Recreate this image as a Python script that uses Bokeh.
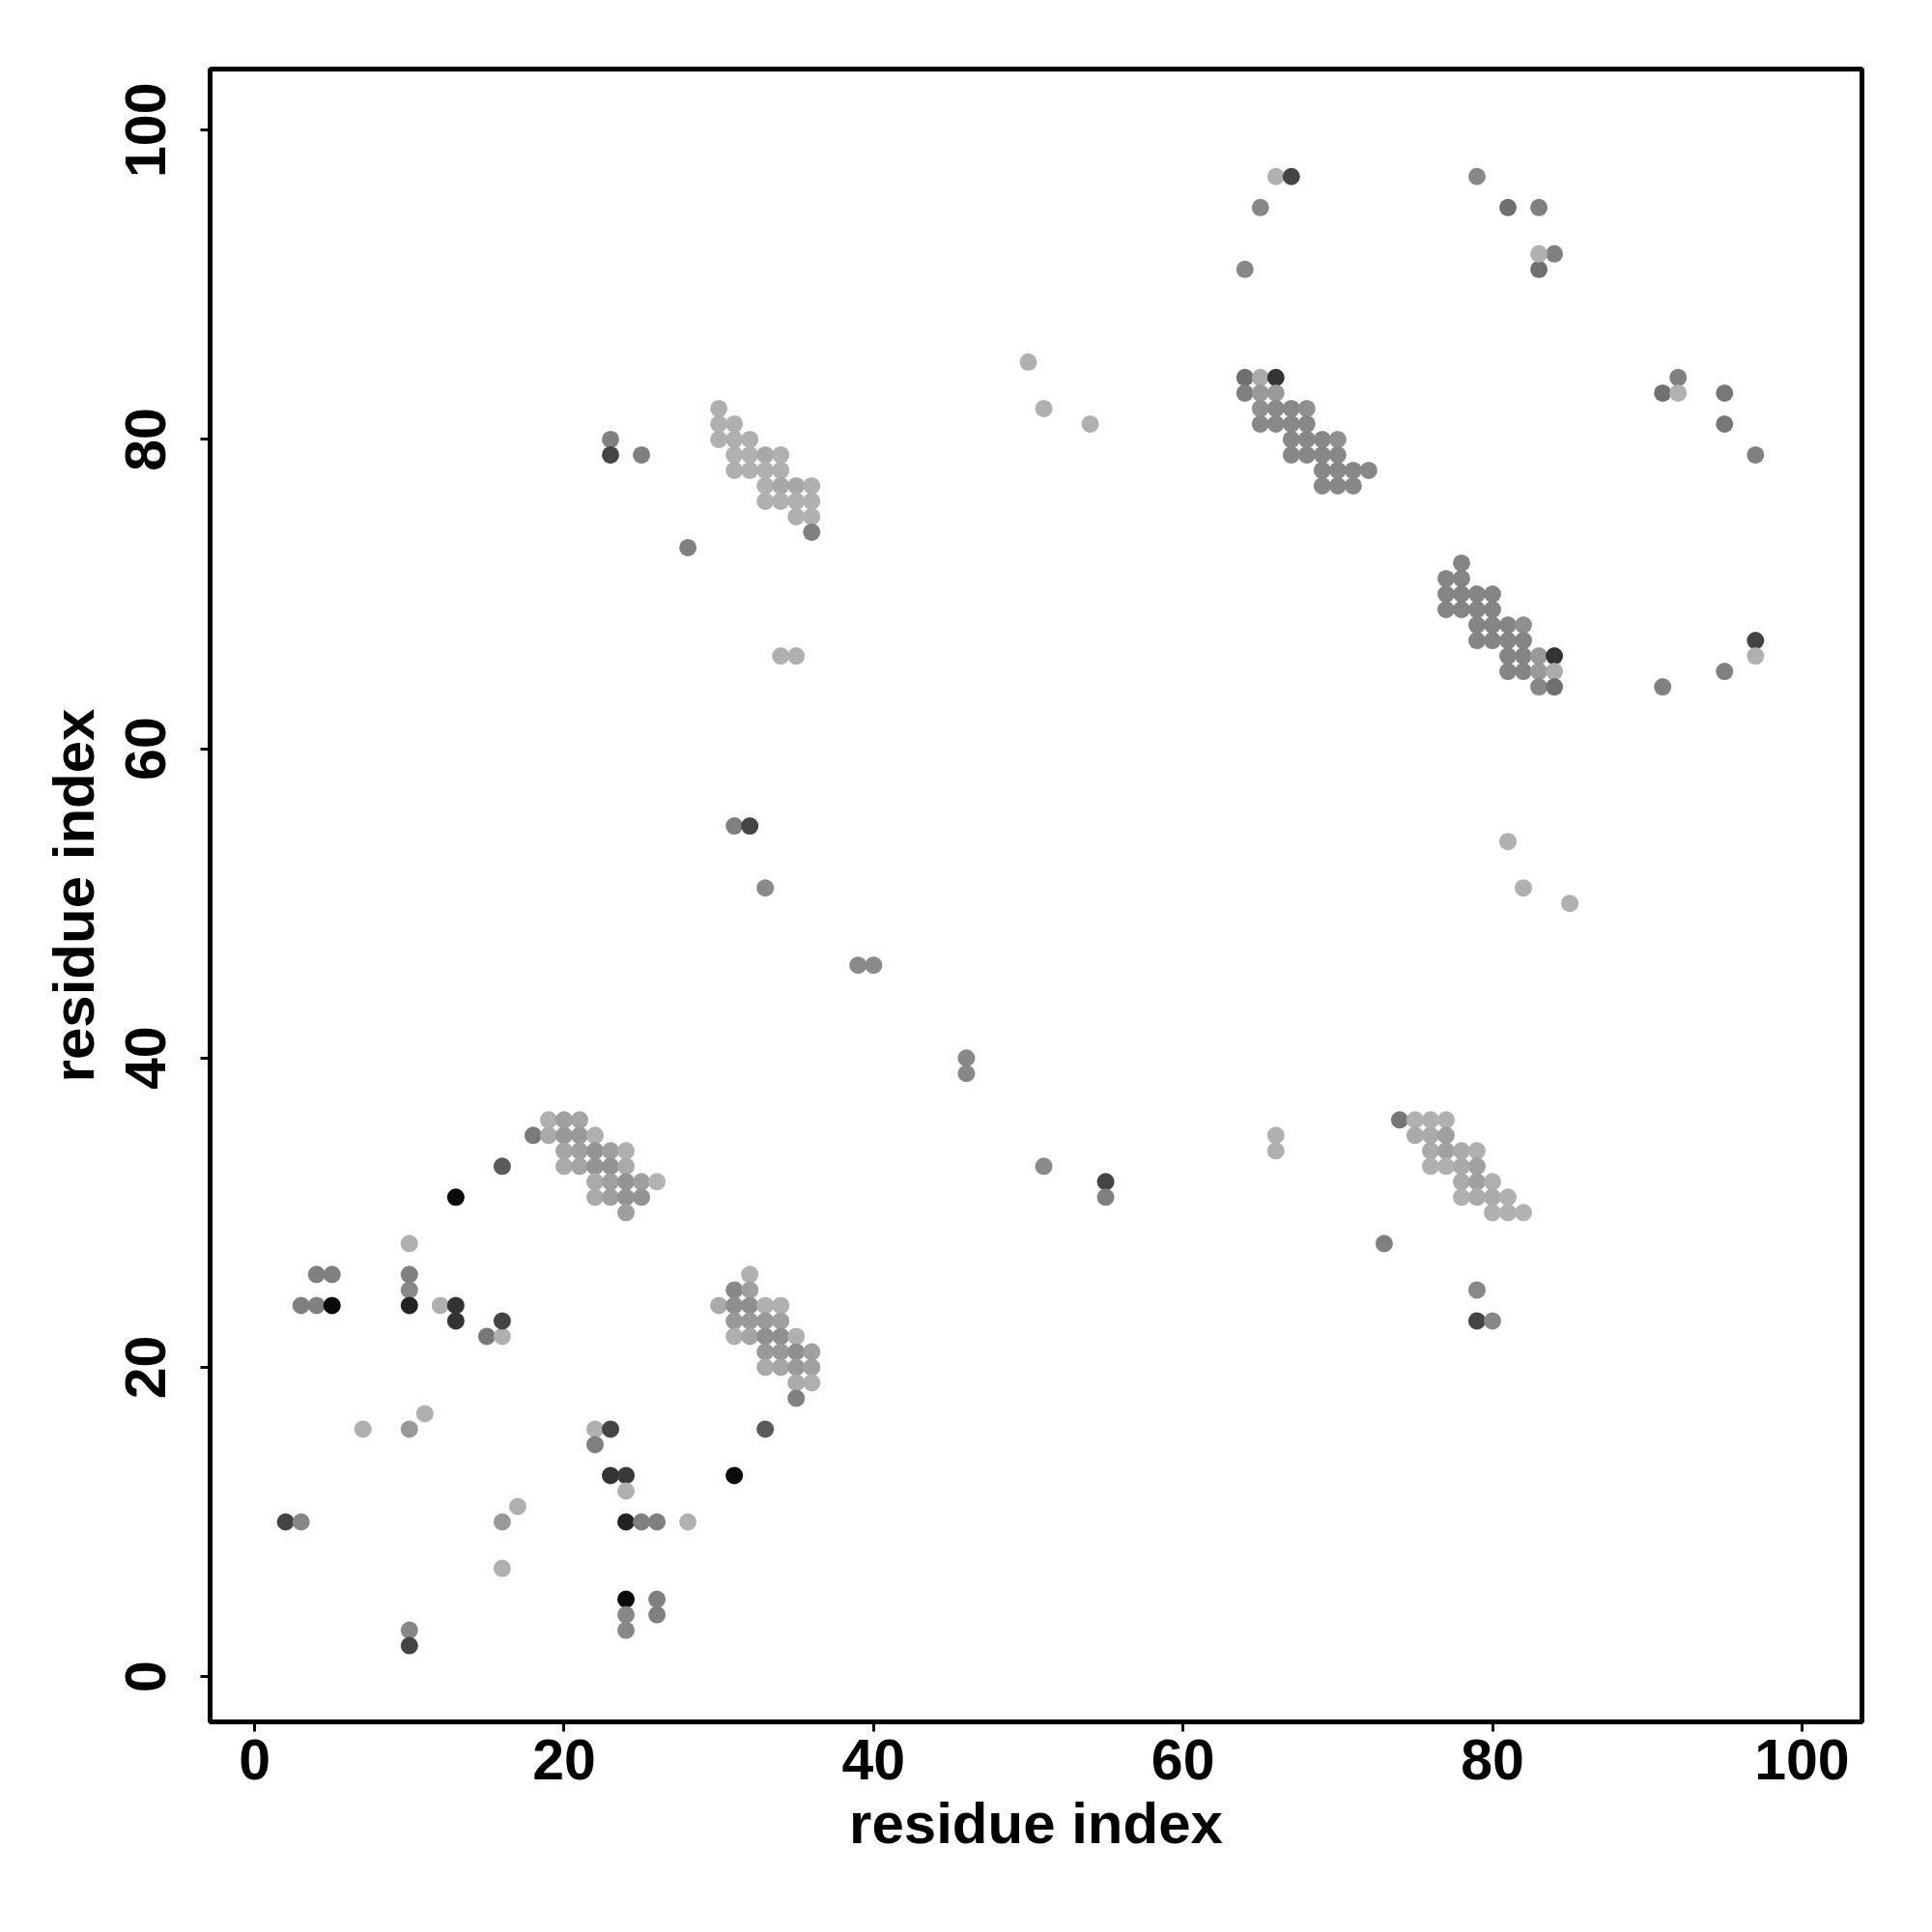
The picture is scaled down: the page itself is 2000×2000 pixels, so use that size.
from bokeh.plotting import figure
from bokeh.models import Range1d, FixedTicker, ColumnDataSource
from bokeh.embed import file_html
from bokeh.resources import INLINE

# contact points: residue i, residue j, gray level (0 = black, 255 = white)
res_i = [
    2, 3, 3, 4, 5, 4, 5, 7, 10, 10, 10, 10, 10, 11, 12, 13, 13, 13, 15, 16, 16,
    16, 16, 16, 17, 10, 10, 22, 22, 23, 33, 23, 24, 24, 31, 24, 25, 26, 28, 24, 26,
    24, 26, 24,
    19, 20, 21, 18, 19, 20, 21, 22, 20, 21, 22, 23, 24, 20, 21, 22, 23, 24,
    22, 23, 24, 25, 26, 22, 23, 24, 25, 24,
    32, 31, 32, 30, 31, 32, 33, 34, 31, 32, 33, 34, 31, 32, 33, 34, 35,
    33, 34, 35, 36, 33, 34, 35, 36, 35, 36, 35,
    23, 23, 25, 28, 30, 30, 31, 30, 31, 32, 31, 32, 33, 34, 31, 32, 33, 34,
    33, 34, 35, 36, 33, 34, 35, 36, 35, 36, 36, 34, 35,
    31, 32, 33, 39, 40, 46, 46, 51, 55, 55, 50, 51, 54, 66, 66,
    66, 67, 65, 64, 64, 65, 66, 64, 65, 66, 65, 66, 67, 68, 65, 66, 67, 68,
    67, 68, 69, 70, 67, 68, 69, 70, 69, 70, 71, 72, 69, 70, 71,
    79, 81, 83, 84, 83, 83, 92, 91, 92, 95, 95, 97, 97, 97, 95, 91,
    78, 77, 78, 77, 78, 79, 80, 77, 78, 79, 80, 79, 80, 81, 82, 79, 80, 81, 82,
    81, 82, 83, 84, 81, 82, 83, 84, 83, 84,
    74, 75, 76, 77, 75, 76, 77, 76, 77, 78, 79, 76, 77, 78, 79, 78, 79, 80,
    78, 79, 80, 81, 80, 81, 82, 73, 79, 79, 80, 81, 82, 85,
]
res_j = [
    10, 10, 24, 24, 24, 26, 26, 16, 28, 26, 25, 24, 16, 17, 24, 24, 23, 31, 22, 22, 23,
    33, 10, 7, 11, 3, 2, 16, 15, 16, 16, 13, 13, 12, 13, 10, 10, 10, 10, 5, 5,
    4, 4, 3,
    36, 36, 36, 35, 35, 35, 35, 35, 34, 34, 34, 34, 34, 33, 33, 33, 33, 33,
    32, 32, 32, 32, 32, 31, 31, 31, 31, 30,
    26, 25, 25, 24, 24, 24, 24, 24, 23, 23, 23, 23, 22, 22, 22, 22, 22,
    21, 21, 21, 21, 20, 20, 20, 20, 19, 19, 18,
    80, 79, 79, 73, 82, 81, 81, 80, 80, 80, 79, 79, 79, 79, 78, 78, 78, 78,
    77, 77, 77, 77, 76, 76, 76, 76, 75, 75, 74, 66, 66,
    55, 55, 51, 46, 46, 40, 39, 33, 32, 31, 85, 82, 81, 35, 34,
    97, 97, 95, 91, 84, 84, 84, 83, 83, 83, 82, 82, 82, 82, 81, 81, 81, 81,
    80, 80, 80, 80, 79, 79, 79, 79, 78, 78, 78, 78, 77, 77, 77,
    97, 95, 95, 92, 91, 92, 84, 83, 83, 83, 81, 79, 67, 66, 65, 64,
    72, 71, 71, 70, 70, 70, 70, 69, 69, 69, 69, 68, 68, 68, 68, 67, 67, 67, 67,
    66, 66, 66, 66, 65, 65, 65, 65, 64, 64,
    36, 36, 36, 36, 35, 35, 35, 34, 34, 34, 34, 33, 33, 33, 33, 32, 32, 32,
    31, 31, 31, 31, 30, 30, 30, 28, 25, 23, 23, 54, 51, 50,
]
shade = [
    0x44, 0x88, 0x80, 0x80, 0x0a, 0x80, 0x80, 0xb0, 0xb0, 0x80, 0x88, 0x22, 0x99, 0xb0, 0xb0, 0x33, 0x33, 0x0a, 0x77, 0xb0, 0x44,
    0x5a, 0x99, 0xb0, 0xb0, 0x88, 0x44, 0xb0, 0x80, 0x44, 0x5a, 0x33, 0x3a, 0xb0, 0x0a, 0x22, 0x80, 0x80, 0xb0, 0x0a, 0x80,
    0x88, 0x80, 0x88,
    0xb0, 0xa0, 0xa5, 0x7a, 0xaa, 0x99, 0x99, 0xb0, 0xa5, 0xa0, 0x93, 0xa0, 0xb0, 0xaa, 0xa5, 0x93, 0x93, 0xaa,
    0xaa, 0xa0, 0x93, 0xa0, 0xb3, 0xaa, 0xa0, 0x93, 0x93, 0xa0,
    0xb0, 0x88, 0xa0, 0xaa, 0x8f, 0x8f, 0xb0, 0xb0, 0x99, 0x99, 0x99, 0xa0, 0xb0, 0xa5, 0x8f, 0x8f, 0xb0,
    0x99, 0x99, 0x8f, 0xa0, 0xaa, 0xa5, 0x99, 0xa0, 0xaa, 0xb0, 0x80,
    0x80, 0x44, 0x80, 0x80, 0xb0, 0xb0, 0xb0, 0xb0, 0xb0, 0xb0, 0xb0, 0xb0, 0xa8, 0xb0, 0xb0, 0xb0, 0xb0, 0xb0,
    0xb0, 0xa8, 0xa8, 0xb0, 0xb0, 0xb0, 0xb0, 0xb0, 0xb0, 0xb0, 0x80, 0xb0, 0xb0,
    0x80, 0x44, 0x8a, 0x8a, 0x8a, 0x88, 0x88, 0x8a, 0x44, 0x80, 0xb0, 0xb0, 0xb0, 0xb0, 0xb0,
    0xb0, 0x44, 0x88, 0x88, 0x70, 0xaa, 0x33, 0x80, 0x99, 0x99, 0x90, 0x88, 0x88, 0x90, 0x88, 0x88, 0x88, 0x88,
    0x88, 0x88, 0x88, 0x90, 0x88, 0x88, 0x88, 0x88, 0x88, 0x88, 0x88, 0x88, 0x88, 0x88, 0x88,
    0x88, 0x70, 0x80, 0x80, 0x70, 0xb0, 0x80, 0x70, 0xb0, 0x77, 0x77, 0x80, 0x44, 0xb0, 0x80, 0x80,
    0x85, 0x85, 0x85, 0x85, 0x85, 0x85, 0x85, 0x85, 0x85, 0x85, 0x85, 0x85, 0x85, 0x85, 0x8f, 0x85, 0x85, 0x85, 0x85,
    0x85, 0x85, 0x99, 0x33, 0x85, 0x85, 0x99, 0xaa, 0x88, 0x70,
    0x77, 0xb0, 0xb0, 0xb0, 0xaa, 0xaa, 0xa0, 0xaa, 0xa0, 0xaa, 0xb0, 0xb0, 0xb0, 0xaa, 0xa0, 0xaa, 0xa0, 0xb0,
    0xb0, 0xaa, 0xaa, 0xb0, 0xb0, 0xb0, 0xb3, 0x80, 0x88, 0x44, 0x88, 0xb0, 0xb0, 0xb0,
]

x_ticks = [0, 20, 40, 60, 80, 100]
y_ticks = [0, 20, 40, 60, 80, 100]

colors = ["#%02x%02x%02x" % (g, g, g) for g in shade]
src = ColumnDataSource(dict(x=res_i, y=res_j, c=colors))

p = figure(
    frame_width=1710, frame_height=1711,
    x_range=Range1d(-2.88, 103.88), y_range=Range1d(-2.93, 103.95),
    output_backend="svg", toolbar_location=None,
    min_border_left=217, min_border_right=57, min_border_top=71, min_border_bottom=202,
    background_fill_color="white", border_fill_color="white",
)
p.grid.visible = False
p.outline_line_color = "black"
p.outline_line_width = 5

p.scatter("x", "y", source=src, size=18, fill_color="c", line_color=None)

FONT = "Liberation Sans"
for ax, ticks in ((p.xaxis[0], x_ticks), (p.yaxis[0], y_ticks)):
    ax.ticker = FixedTicker(ticks=ticks)
    ax.axis_line_color = None
    ax.major_tick_in = 0
    ax.major_tick_out = 10
    ax.major_tick_line_width = 3
    ax.major_tick_line_color = "black"
    ax.minor_tick_line_color = None
    ax.major_label_text_font = FONT
    ax.major_label_text_font_style = "bold"
    ax.major_label_text_font_size = "59px"
    ax.major_label_text_color = "black"
    ax.axis_label = "residue index"
    ax.axis_label_text_font = FONT
    ax.axis_label_text_font_style = "bold"
    ax.axis_label_text_font_size = "60px"
    ax.axis_label_text_color = "black"

p.xaxis[0].major_label_standoff = 8
p.xaxis[0].axis_label_standoff = 9
p.yaxis[0].major_label_orientation = "vertical"
p.yaxis[0].major_label_standoff = 36
p.yaxis[0].axis_label_standoff = 18

open("out.html", "w").write(file_html(p, INLINE))
